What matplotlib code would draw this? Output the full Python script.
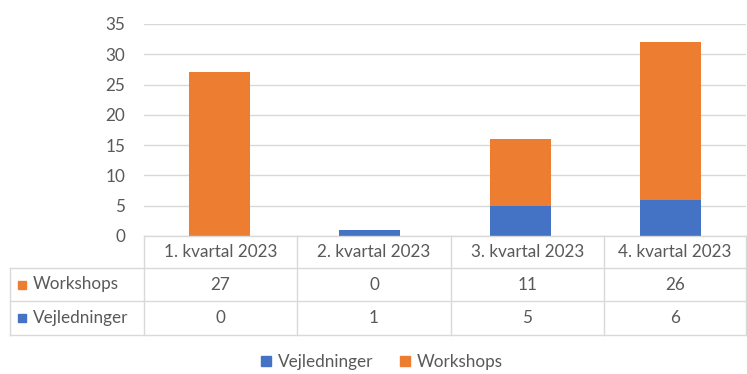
import numpy as np
import matplotlib.pyplot as plt
from matplotlib.patches import Rectangle, Patch
from matplotlib.lines import Line2D

plt.rcParams['font.family'] = ['Lato', 'DejaVu Sans']

categories = ["1. kvartal 2023", "2. kvartal 2023", "3. kvartal 2023", "4. kvartal 2023"]
workshops = [27, 0, 11, 26]
vejledninger = [0, 1, 5, 6]
yticks = [0, 5, 10, 15, 20, 25, 30, 35]

orange = '#ED7D31'
blue = '#4472C4'
grid = '#D9D9D9'
txt = '#595959'
fs = 12.3

W, H = 747, 374
fig = plt.figure(figsize=(W / 100, H / 100), dpi=100)

# pixel helpers (origin top-left)
def fx(px):
    return px / W

def fy(py):
    return 1 - py / H

left, right, top, bottom = 144, 746, 24, 236
ax = fig.add_axes([fx(left), fy(bottom), fx(right - left), (bottom - top) / H])

x = np.arange(len(categories))
ax.bar(x, vejledninger, width=0.405, color=blue, zorder=3)
ax.bar(x, workshops, width=0.405, bottom=vejledninger, color=orange, zorder=3)

ax.set_xlim(-0.5, len(categories) - 0.5)
ax.set_ylim(0, 35)
ax.set_yticks(yticks)
ax.set_xticks([])
ax.tick_params(axis='y', length=0, pad=13.5, labelsize=fs, labelcolor=txt)
ax.yaxis.grid(True, color=grid, lw=1)
ax.set_axisbelow(True)
for s in ax.spines.values():
    s.set_visible(False)

# data table under the axis
col_edges = [144, 297, 451, 604, 746]
row_edges = [236, 268, 301, 335]
lc = grid
for y in row_edges:
    x0 = 144 if y == row_edges[0] else 10
    fig.add_artist(Line2D([fx(x0), fx(746)], [fy(y), fy(y)], color=lc, lw=1))
for xe in col_edges:
    fig.add_artist(Line2D([fx(xe), fx(xe)], [fy(236), fy(335)], color=lc, lw=1))
fig.add_artist(Line2D([fx(10), fx(10)], [fy(268), fy(335)], color=lc, lw=1))

for i, cat in enumerate(categories):
    cx = (col_edges[i] + col_edges[i + 1]) / 2
    fig.text(fx(cx), fy(252), cat, ha='center', va='center', fontsize=fs, color=txt)
    fig.text(fx(cx), fy(284.5), str(workshops[i]), ha='center', va='center', fontsize=fs, color=txt)
    fig.text(fx(cx), fy(318), str(vejledninger[i]), ha='center', va='center', fontsize=fs, color=txt)

for name, col, yc in [("Workshops", orange, 284.5), ("Vejledninger", blue, 318)]:
    fig.add_artist(Rectangle((fx(18), fy(yc + 4)), fx(8), 8 / H, color=col, transform=fig.transFigure))
    fig.text(fx(33), fy(yc), name, ha='left', va='center', fontsize=fs, color=txt)

handles = [Patch(color=blue, label='Vejledninger'), Patch(color=orange, label='Workshops')]
fig.legend(handles=handles, loc='center', bbox_to_anchor=(fx(382), fy(362)), ncol=2,
           frameon=False, fontsize=fs, labelcolor=txt, handlelength=0.55, handleheight=0.55,
           handletextpad=0.4, columnspacing=1.6)

fig.savefig('out.png', dpi=100)
